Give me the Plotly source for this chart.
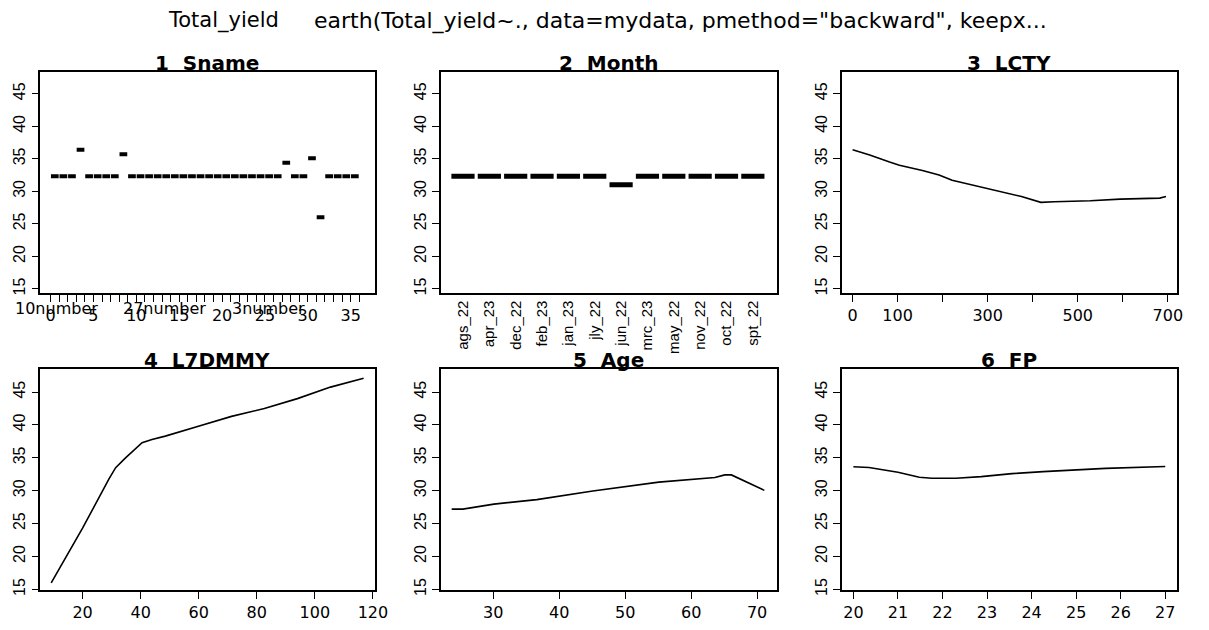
import plotly.graph_objects as go

# ---------------- data ----------------
sname_values = [32.3, 32.3, 32.3, 36.4, 32.3, 32.3, 32.3, 32.3, 35.7,
                32.3, 32.3, 32.3, 32.3, 32.3, 32.3, 32.3, 32.3, 32.3,
                32.3, 32.3, 32.3, 32.3, 32.3, 32.3, 32.3, 32.3, 32.3,
                34.4, 32.3, 32.3, 35.1, 26.0, 32.3, 32.3, 32.3, 32.3]
sname_tick_values = [0, 5, 10, 15, 20, 25, 30, 35]
sname_tick_labels = ["0", "5", "10", "15", "20", "25", "30", "35"]
sname_extra_labels = ["10number", "27number", "3number"]
sname_extra_pos = [0.63, 13.3, 25.4]

month_labels = ["ags_22", "apr_23", "dec_22", "feb_23", "jan_23", "jly_22",
                "jun_22", "mrc_23", "may_22", "nov_22", "oct_22", "spt_22"]
month_values = [32.3, 32.3, 32.3, 32.3, 32.3, 32.3, 31.0, 32.3, 32.3, 32.3, 32.3, 32.3]

lcty_x = [0, 38, 82, 104, 155, 192, 221, 301, 375, 418, 448, 528, 594, 682, 696]
lcty_y = [36.4, 35.6, 34.5, 34.0, 33.2, 32.5, 31.7, 30.45, 29.2, 28.3, 28.4, 28.55, 28.8, 28.95, 29.2]
lcty_ticks = [0, 100, 200, 300, 400, 500, 600, 700]
lcty_labels = ["0", "100", "", "300", "", "500", "", "700"]

l7_x = [9.2, 20, 29.1, 31.4, 34.8, 40.5, 43.9, 48.5, 59.9, 71.3, 82.6, 94.0, 105.4, 116.8]
l7_y = [16.0, 24.3, 31.8, 33.5, 35.0, 37.3, 37.8, 38.3, 39.8, 41.3, 42.5, 44.0, 45.75, 47.1]

age_x = [23.7, 25.4, 30.1, 36.6, 45.1, 55.1, 63.6, 65.1, 66.1, 71.1]
age_y = [27.2, 27.2, 27.96, 28.65, 29.95, 31.3, 32.0, 32.4, 32.4, 30.05]

fp_x = [20, 20.35, 21.0, 21.48, 21.76, 22.3, 22.87, 23.56, 24.26, 24.96, 25.66, 27.0]
fp_y = [33.64, 33.53, 32.8, 32.04, 31.9, 31.9, 32.14, 32.6, 32.9, 33.13, 33.39, 33.68]

y_ticks = [15, 20, 25, 30, 35, 40, 45]
panel_titles = ["1  Sname", "2  Month", "3  LCTY", "4  L7DMMY", "5  Age", "6  FP"]
main_left = "Total_yield"
main_right = 'earth(Total_yield~., data=mydata, pmethod="backward", keepx...'

# ---------------- layout geometry ----------------
# the page body adds an 8px margin, so the figure is 16px smaller and all
# reference pixel positions are shifted by 8px
OFF = 8
W, H = 1209 - 2 * OFF, 630 - 2 * OFF
cols = [(40.7, 379.0), (446.0, 785.7), (851.7, 1190.7)]
rows = [(72.7, 297.5), (375.0, 600.0)]

def px(x):
    return (x - OFF) / W

def py(y):
    return 1 - (y - OFF) / H

def xd(c):
    return [px(cols[c][0]), px(cols[c][1])]

def yd(r):
    return [py(rows[r][1]), py(rows[r][0])]

fig = go.Figure()

line_style = dict(color="black", width=1.6)

# Panel 1: Sname step segments
sx, sy = [], []
for i, v in enumerate(sname_values):
    sx += [i + 0.04, i + 0.94, None]
    sy += [v, v, None]
fig.add_trace(go.Scatter(x=sx, y=sy, mode="lines", line=dict(color="black", width=4),
                         xaxis="x", yaxis="y", showlegend=False, hoverinfo="skip"))

# Panel 2: Month segments
mx, my = [], []
for i, v in enumerate(month_values):
    mx += [i + 1 - 0.44, i + 1 + 0.44, None]
    my += [v, v, None]
fig.add_trace(go.Scatter(x=mx, y=my, mode="lines", line=dict(color="black", width=5),
                         xaxis="x2", yaxis="y2", showlegend=False, hoverinfo="skip"))

fig.add_trace(go.Scatter(x=lcty_x, y=lcty_y, mode="lines", line=line_style,
                         xaxis="x3", yaxis="y3", showlegend=False))
fig.add_trace(go.Scatter(x=l7_x, y=l7_y, mode="lines", line=line_style,
                         xaxis="x4", yaxis="y4", showlegend=False))
fig.add_trace(go.Scatter(x=age_x, y=age_y, mode="lines", line=line_style,
                         xaxis="x5", yaxis="y5", showlegend=False))
fig.add_trace(go.Scatter(x=fp_x, y=fp_y, mode="lines", line=line_style,
                         xaxis="x6", yaxis="y6", showlegend=False))

ax_common = dict(showline=True, linecolor="black", linewidth=1.6, mirror=True,
                 ticks="outside", ticklen=7, tickwidth=1.2, tickcolor="black",
                 showgrid=False, zeroline=False,
                 tickfont=dict(family="DejaVu Sans", size=16, color="black"))
y_common = dict(ax_common, tickvals=y_ticks, ticktext=[str(t) for t in y_ticks],
                tickangle=-90, tickfont=dict(family="Liberation Sans", size=16, color="black"))

x_ranges = [[-1.2, 37.8], [0.16, 12.9], [-24, 720], [5.45, 120.6], [22.06, 72.95], [19.74, 27.26]]
y_ranges = [[14.4, 48.4], [14.4, 48.4], [14.4, 48.4], [14.85, 48.5], [14.85, 48.5], [14.85, 48.5]]

layout = dict(width=W, height=H, autosize=False, margin=dict(l=0, r=0, t=0, b=0),
              plot_bgcolor="white", paper_bgcolor="white", showlegend=False)

for k in range(6):
    r, c = divmod(k, 3)
    xname = "xaxis" if k == 0 else f"xaxis{k+1}"
    yname = "yaxis" if k == 0 else f"yaxis{k+1}"
    yref = "y" if k == 0 else f"y{k+1}"
    xref = "x" if k == 0 else f"x{k+1}"
    xa = dict(ax_common, domain=xd(c), range=x_ranges[k], anchor=yref)
    if k == 0:
        xa.update(tickvals=list(range(37)),
                  ticktext=[sname_tick_labels[sname_tick_values.index(i)] if i in sname_tick_values else ""
                            for i in range(37)])
    elif k == 1:
        xa.update(tickvals=[i + 1 for i in range(len(month_labels))], ticktext=month_labels,
                  ticks="", tickangle=-90,
                  tickfont=dict(family="Liberation Sans", size=15, color="black"))
    elif k == 2:
        xa.update(tickvals=lcty_ticks, ticktext=lcty_labels)
    elif k == 3:
        xa.update(tickvals=[20, 40, 60, 80, 100, 120])
    elif k == 4:
        xa.update(tickvals=[30, 40, 50, 60, 70])
    else:
        xa.update(tickvals=[20, 21, 22, 23, 24, 25, 26, 27])
    ya = dict(y_common, domain=yd(r), range=y_ranges[k], anchor=xref)
    layout[xname] = xa
    layout[yname] = ya

annotations = []
title_y = [py(64), py(366)]
for k, t in enumerate(panel_titles):
    r, c = divmod(k, 3)
    annotations.append(dict(text=t, x=px((cols[c][0] + cols[c][1]) / 2), y=title_y[r],
                            xref="paper", yref="paper", xanchor="center", yanchor="middle",
                            showarrow=False,
                            font=dict(family="DejaVu Sans", size=20, color="black", weight="bold")))

for lab, pos in zip(sname_extra_labels, sname_extra_pos):
    annotations.append(dict(text=lab, x=pos, y=py(313), xref="x", yref="paper",
                            xanchor="center", yanchor="middle", showarrow=False,
                            font=dict(family="DejaVu Sans", size=16, color="black")))

annotations.append(dict(text=main_left, x=px(168), y=py(21), xref="paper", yref="paper",
                        xanchor="left", yanchor="middle", showarrow=False,
                        font=dict(family="DejaVu Sans", size=21, color="black")))
annotations.append(dict(text=main_right, x=px(316), y=py(21), xref="paper", yref="paper",
                        xanchor="left", yanchor="middle", showarrow=False,
                        font=dict(family="DejaVu Sans", size=22, color="black")))

layout["annotations"] = annotations
fig.update_layout(**layout)

fig.write_html("out.html")
